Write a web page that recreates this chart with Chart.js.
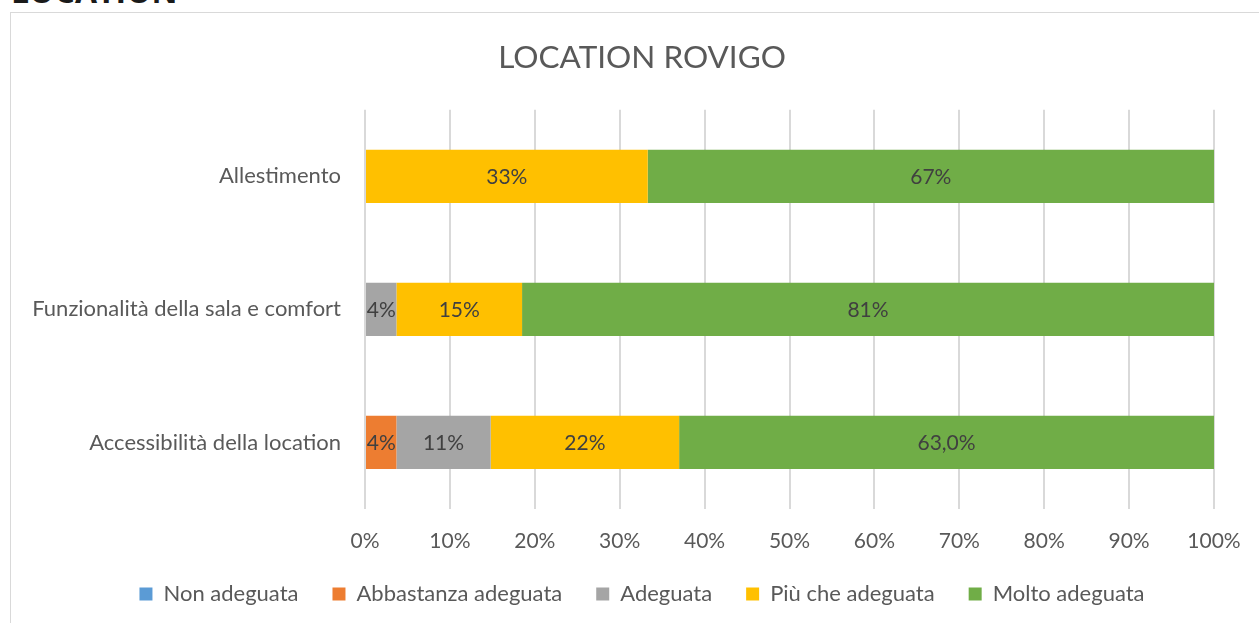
<!DOCTYPE html>
<html>
<head>
<meta charset="utf-8">
<script src="https://cdn.jsdelivr.net/npm/chart.js@4.4.0/dist/chart.umd.min.js"></script>
<style>
  html, body { margin: 0; padding: 0; background: #fff; overflow: hidden; }
  #heading {
    position: absolute; left: 11px; top: -31px;
    font: bold 32px "Open Sans", sans-serif; color: #1a1a1a;
  }
  #frame {
    position: absolute; left: 10px; top: 12px; width: 1400px; height: 800px;
    border: 1px solid #d9d9d9;
  }
  #wrap { position: absolute; left: 0; top: 0; width: 1300px; height: 623px; }
</style>
</head>
<body>
<div id="heading">LOCATION</div>
<div id="frame"></div>
<div id="wrap"><canvas id="chart"></canvas></div>
<script>
/* data */
const categories = ["Allestimento", "Funzionalità della sala e comfort", "Accessibilità della location"]

const seriesNames = ["Non adeguata", "Abbastanza adeguata", "Adeguata", "Più che adeguata", "Molto adeguata"]
const seriesColors = ["#5B9BD5", "#ED7D31", "#A5A5A5", "#FFC000", "#70AD47"]

const nonAdeguata = [0, 0, 0]
const abbastanza = [0, 0, 3.7]
const adeguata = [0, 3.7, 11.1]
const piuCheAdeguata = [33.3, 14.8, 22.2]
const moltoAdeguata = [66.7, 81.5, 63.0]

const nonAdeguataLabels = ["", "", ""]
const abbastanzaLabels = ["", "", "4%"]
const adeguataLabels = ["", "4%", "11%"]
const piuCheLabels = ["33%", "15%", "22%"]
const moltoLabels = ["67%", "81%", "63,0%"]

const tickValues = [0, 10, 20, 30, 40, 50, 60, 70, 80, 90, 100]

const seriesValues = [nonAdeguata, abbastanza, adeguata, piuCheAdeguata, moltoAdeguata]
const seriesLabels = [nonAdeguataLabels, abbastanzaLabels, adeguataLabels, piuCheLabels, moltoLabels]

const FONT = "Lato"
const TEXT = "#595959"

/* labels in the middle of each bar segment */
const barLabels = {
    id: "barLabels",
    afterDatasetsDraw(chart) {
        const ctx = chart.ctx
        ctx.save()
        ctx.font = "21px " + FONT
        ctx.fillStyle = "#404040"
        ctx.textAlign = "center"
        ctx.textBaseline = "middle"
        chart.data.datasets.forEach((ds, i) => {
            const meta = chart.getDatasetMeta(i)
            meta.data.forEach((bar, j) => {
                const txt = seriesLabels[i][j]
                if (!txt) return
                const p = bar.getProps(["x", "y", "base"], true)
                ctx.fillText(txt, (p.x + p.base) / 2, p.y + 1)
            })
        })
        ctx.restore()
    }
}

const datasets = seriesNames.map((name, i) => ({
    label: name,
    data: seriesValues[i],
    backgroundColor: seriesColors[i],
    borderWidth: 0,
    barPercentage: 0.4,
    categoryPercentage: 1.0
}))

new Chart(document.querySelector("#chart"), {
    type: "bar",
    data: { labels: categories, datasets: datasets },
    plugins: [barLabels],
    options: {
        indexAxis: "y",
        responsive: true,
        maintainAspectRatio: false,
        animation: false,
        layout: { padding: { left: 20, right: 36, top: 0, bottom: 8 } },
        plugins: {
            title: {
                display: true,
                text: "LOCATION ROVIGO",
                color: TEXT,
                font: { family: FONT, size: 31.5, weight: "normal" },
                padding: { top: 39, bottom: 33 }
            },
            legend: {
                position: "bottom",
                labels: {
                    color: TEXT,
                    font: { family: FONT, size: 22 },
                    boxWidth: 13,
                    boxHeight: 13,
                    padding: 34
                }
            },
            tooltip: { enabled: false }
        },
        scales: {
            x: {
                stacked: true,
                min: 0,
                max: 100,
                afterBuildTicks: (axis) => { axis.ticks = tickValues.map(v => ({ value: v })) },
                afterFit: (axis) => { axis.height = 40 },
                grid: { color: "#d9d9d9", lineWidth: 2, drawTicks: false },
                border: { display: false },
                ticks: {
                    color: TEXT,
                    font: { family: FONT, size: 21, lineHeight: 1 },
                    padding: 22,
                    callback: v => v + "%"
                }
            },
            y: {
                stacked: true,
                grid: { display: false },
                border: { display: false },
                afterFit: (axis) => { axis.width = 345 },
                ticks: {
                    color: TEXT,
                    font: { family: FONT, size: 22 },
                    padding: 16
                }
            },
            /* empty space on the right so that title and legend sit where they do in the picture */
            spacer: {
                type: "category",
                axis: "y",
                position: "right",
                grid: { display: false },
                border: { display: false },
                ticks: { display: false },
                afterFit: (axis) => { axis.width = 50 }
            }
        }
    }
})
</script>
</body>
</html>
